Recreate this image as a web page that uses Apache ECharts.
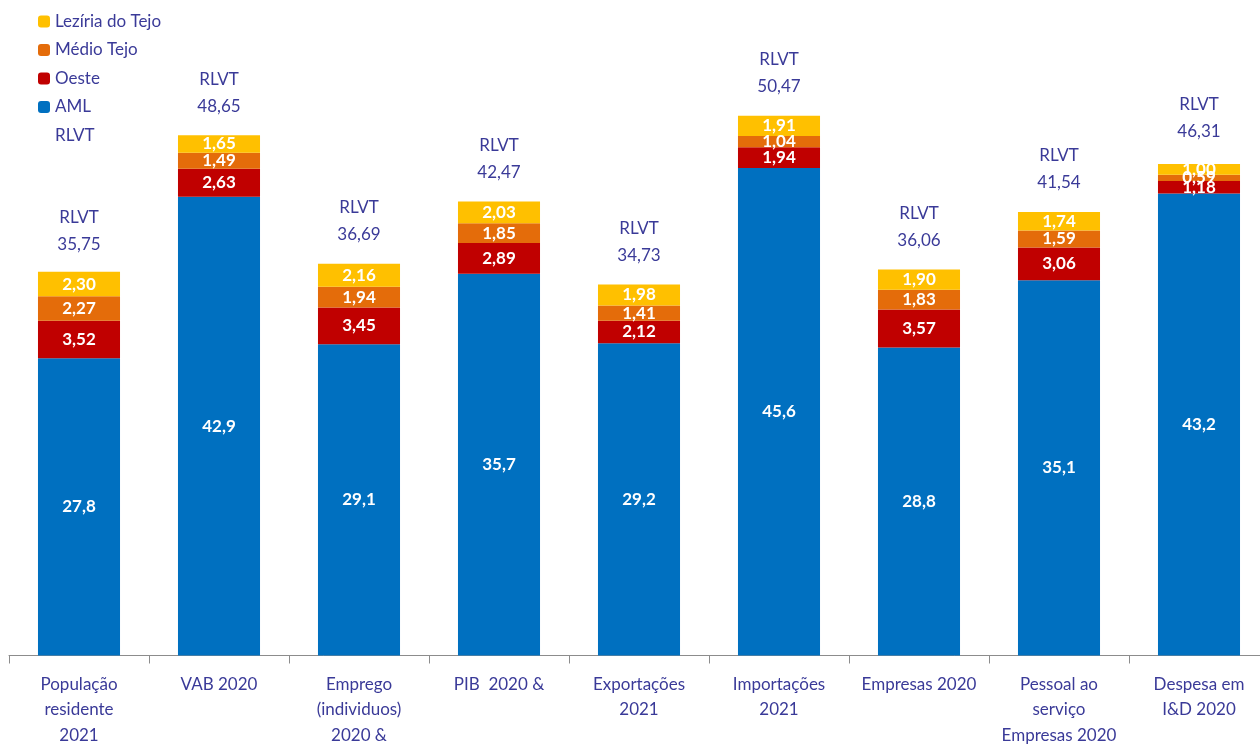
<!DOCTYPE html>
<html><head><meta charset="utf-8">
<script src="https://cdn.jsdelivr.net/npm/echarts@6/dist/echarts.min.js"></script>
<style>html,body{margin:0;padding:0;background:#fff;overflow:hidden}#c{width:1270px;height:748px}</style>
</head><body><div id="c"></div>
<script>
const categories = ["População\nresidente\n2021","VAB 2020","Emprego\n(individuos)\n2020 &","PIB  2020 &","Exportações\n2021","Importações\n2021","Empresas 2020","Pessoal ao\nserviço\nEmpresas 2020","Despesa em\nI&D 2020"];
const aml = [27.8,42.9,29.1,35.7,29.2,45.6,28.8,35.1,43.2];
const oeste = [3.52,2.63,3.45,2.89,2.12,1.94,3.57,3.06,1.18];
const medioTejo = [2.27,1.49,1.94,1.85,1.41,1.04,1.83,1.59,0.59];
const leziria = [2.30,1.65,2.16,2.03,1.98,1.91,1.90,1.74,1.00];
const rlvt = [35.75,48.65,36.69,42.47,34.73,50.47,36.06,41.54,46.31];

const FONT = 'Lato';
const TXT = '#3a3a98';
function fmt(v,d){return v.toFixed(d).replace('.',',');}
function barSeries(name,data,color,dec){
  return {name:name,type:'bar',stack:'t',data:data,barWidth:'58.6%',
    itemStyle:{color:color},
    label:{show:true,position:'inside',color:'#fff',fontWeight:'bold',fontSize:17,fontFamily:FONT,
      formatter:p=>fmt(p.value,dec)}};
}
const chart = echarts.init(document.getElementById('c'));
chart.setOption({
  animation:false,
  textStyle:{fontFamily:FONT},
  legend:{orient:'vertical',left:33,top:8,itemWidth:12,itemHeight:12,itemGap:11.5,
    textStyle:{color:TXT,fontSize:17,fontFamily:FONT},
    data:[{name:'Lezíria do Tejo'},{name:'Médio Tejo'},{name:'Oeste'},{name:'AML'},{name:'RLVT',icon:'none'}]},
  grid:{left:9,right:1,top:14,bottom:89,containLabel:false},
  xAxis:{type:'category',data:categories,
    axisLine:{lineStyle:{color:'#8c8c8c',width:1}},
    axisTick:{show:true,length:8,lineStyle:{color:'#8c8c8c'}},
    axisLabel:{color:TXT,fontSize:17,fontFamily:FONT,lineHeight:25.5,margin:16,interval:0}},
  yAxis:{type:'value',min:0,max:60,show:false,splitLine:{show:false}},
  series:[
    barSeries('AML',aml,'#0070C0',1),
    barSeries('Oeste',oeste,'#C00000',2),
    barSeries('Médio Tejo',medioTejo,'#E46C0A',2),
    barSeries('Lezíria do Tejo',leziria,'#FFC000',2),
    {name:'RLVT',type:'line',data:rlvt,symbol:'circle',symbolSize:1,showSymbol:true,
     lineStyle:{opacity:0},itemStyle:{color:'rgba(0,0,0,0)'},
     label:{show:true,position:'top',distance:15,color:TXT,fontSize:17,fontFamily:FONT,lineHeight:27,
       formatter:p=>'RLVT\n'+fmt(p.value,2)}}
  ]
});
</script></body></html>
